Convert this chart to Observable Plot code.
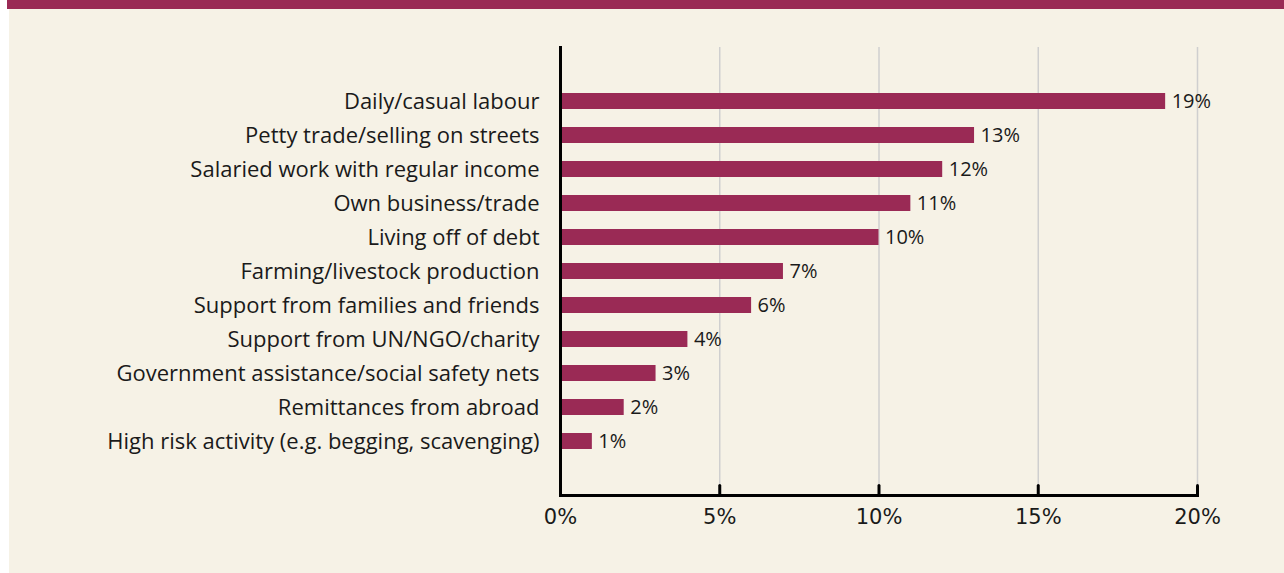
<!DOCTYPE html>
<html>
<head>
<meta charset="utf-8">
<script src="https://cdn.jsdelivr.net/npm/d3@7"></script>
<script src="https://cdn.jsdelivr.net/npm/@observablehq/plot@0.6"></script>
<style>
  html, body { margin: 0; padding: 0; background: #ffffff; width: 1284px; height: 573px; overflow: hidden; }
  #band { position: absolute; left: 7px; top: 0; width: 1277px; height: 9px; background: #9a2a55; }
  #panel { position: absolute; left: 9px; top: 9px; width: 1275px; height: 564px; background: #f6f2e6; }
  #panel svg { display: block; }
</style>
</head>
<body>
<div id="band"></div>
<div id="panel"></div>
<script>
const categories = [
  "Daily/casual labour",
  "Petty trade/selling on streets",
  "Salaried work with regular income",
  "Own business/trade",
  "Living off of debt",
  "Farming/livestock production",
  "Support from families and friends",
  "Support from UN/NGO/charity",
  "Government assistance/social safety nets",
  "Remittances from abroad",
  "High risk activity (e.g. begging, scavenging)"
];
const values = [19, 13, 12, 11, 10, 7, 6, 4, 3, 2, 1];
const xTicks = [0, 5, 10, 15, 20];
const tickLabels = ["0%", "5%", "10%", "15%", "20%"];

const data = categories.map((c, i) => ({category: c, value: values[i]}));
const maroon = "#9a2a55";
const tickShape = {draw(context, l) { context.moveTo(0, 0); context.lineTo(0, -l); }};

const chart = Plot.plot({
  width: 1275,
  height: 564,
  marginLeft: 551,
  marginRight: 87,
  marginTop: 38,
  marginBottom: 78,
  style: {background: "transparent", fontFamily: "'Open Sans', sans-serif", color: "#1a1a1a"},
  x: {domain: [0, 20], ticks: xTicks},
  y: {domain: categories, paddingInner: 0.53, paddingOuter: 1.35},
  marks: [
    Plot.ruleX(xTicks.filter(d => d > 0), {stroke: "#cfcfcf", strokeWidth: 1.5}),
    Plot.barX(data, {x: "value", y: "category", fill: maroon}),
    Plot.text(data, {x: "value", y: "category", text: d => d.value + "%", textAnchor: "start", dx: 6, fontSize: 20, fill: "#1a1a1a"}),
    Plot.vectorX(xTicks, {x: d => d, frameAnchor: "bottom", length: 10, rotate: 0, anchor: "start", shape: tickShape, stroke: "#000", strokeWidth: 3}),
    Plot.frame({anchor: "bottom", stroke: "#000", strokeWidth: 3}),
    Plot.frame({anchor: "left", stroke: "#000", strokeWidth: 3}),
    Plot.axisX(xTicks, {tickSize: 0, tickPadding: 14, tickFormat: (d) => tickLabels[xTicks.indexOf(d)], fontSize: 21, fontFamily: "'DejaVu Sans', sans-serif", label: null}),
    Plot.axisY({tickSize: 0, tickPadding: 21, fontSize: 22, label: null})
  ]
});
document.getElementById("panel").appendChild(chart);
</script>
</body>
</html>
